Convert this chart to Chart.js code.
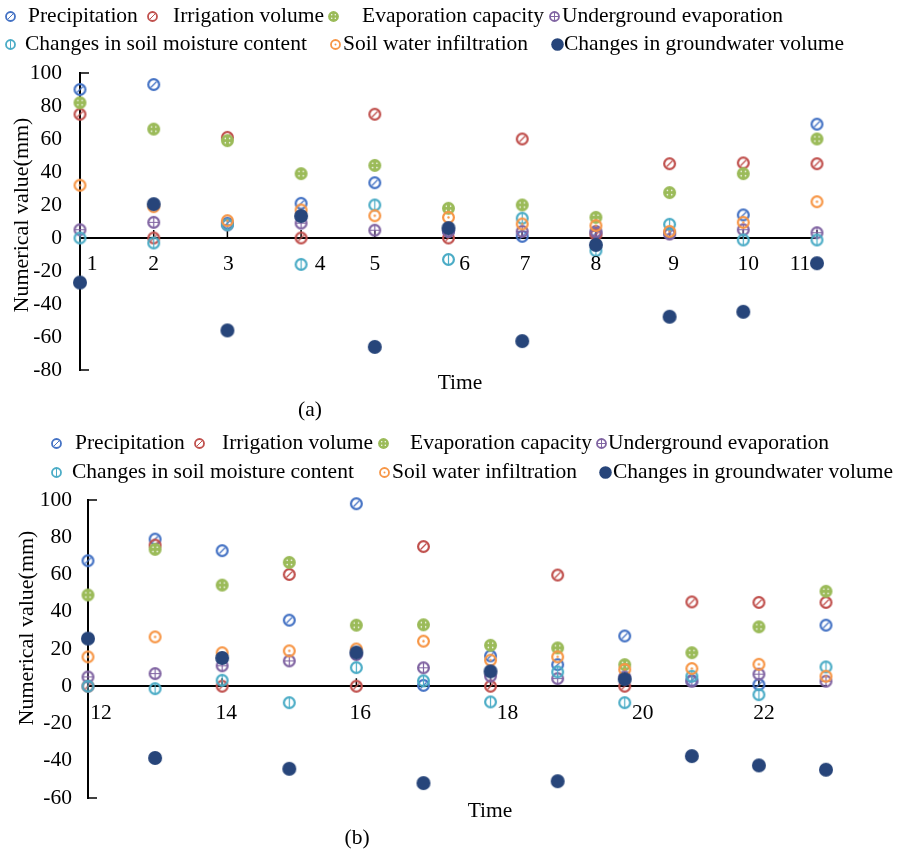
<!DOCTYPE html>
<html>
<head>
<meta charset="utf-8">
<script src="https://cdn.jsdelivr.net/npm/chart.js@4.4.1/dist/chart.umd.min.js"></script>
<style>
  html, body { margin: 0; padding: 0; background: #fff; }
  #wrap { position: relative; width: 901px; height: 849px; overflow: hidden; background: #fff; }
  .panel { position: absolute; left: 0; width: 901px; }
  #pa { top: 0; height: 425px; }
  #pb { top: 425px; height: 424px; }
</style>
</head>
<body>
<div id="wrap">
  <div class="panel" id="pa"><canvas id="chartA" width="901" height="425"></canvas></div>
  <div class="panel" id="pb"><canvas id="chartB" width="901" height="424"></canvas></div>
</div>
<script>
// Water balance components (mm) per time step
const seriesNames = [
  'Precipitation', 'Irrigation volume', 'Evaporation capacity', 'Underground evaporation',
  'Changes in soil moisture content', 'Soil water infiltration', 'Changes in groundwater volume'
];

// Panel (a): time steps 1–11
const timeA = [1, 2, 3, 4, 5, 6, 7, 8, 9, 10, 11];
const precipitationA = [90, 93, 9, 21, 33.5, 4, 1, 3, 3, 14, 69];
const irrigationA = [75, 0, 61, 0, 75, 0, 60, 2, 45, 45.5, 45];
const evaporationA = [82, 66, 59, 39, 44, 18, 20, 12.5, 27.5, 39, 60];
const undergroundEvapA = [5, 9.5, 8, 9, 4.7, 4, 4, 4, 2.4, 5, 3.2];
const soilMoistureA = [0, -3, 8, -16, 20, -13, 12, -7.7, 8.3, -1.2, -1.2];
const infiltrationA = [32, 19, 10.5, 17, 13.5, 12.5, 8.5, 7.5, 4, 9.5, 22];
const groundwaterA = [-27, 20.5, -56, 13.3, -66, 6, -62.5, -4.2, -47.7, -44.7, -15.3];

// Panel (b): time steps 12–23
const timeB = [12, 13, 14, 15, 16, 17, 18, 19, 20, 21, 22, 23];
const precipitationB = [67.4, 79, 72.8, 35.5, 98, 0.5, 16.3, 11.6, 27, 3, 0.9, 32.8];
const irrigationB = [0, 75.8, 0, 60, 0, 75, 0, 59.7, 0, 45.3, 45, 45];
const evaporationB = [49, 73.5, 54.3, 66.5, 32.8, 33, 22, 20.6, 11.6, 18, 31.9, 51];
const undergroundEvapB = [5, 6.8, 11, 13.6, 17, 9.9, 5.5, 4.1, 5, 2.7, 6.5, 2.7];
const soilMoistureB = [0, -1.3, 3.2, -8.8, 10, 2.9, -8.4, 7.7, -8.8, 5.4, -4.5, 10.4];
const infiltrationB = [15.8, 26.5, 18, 19, 20, 24.2, 14, 15.8, 9, 9.5, 11.8, 5.4];
const groundwaterB = [25.6, -38.5, 15.2, -44.3, 18.1, -52, 8, -51, 3.8, -37.5, -42.5, -44.8];

const colors = ['#4472C4', '#C0504D', '#9BBB59', '#8064A2', '#4BACC6', '#F79646', '#27457A'];
const kinds = ['slash', 'slash', 'dots', 'plus', 'vline', 'dot', 'filled'];

const FONT = "'Liberation Serif', 'Times New Roman', serif";
const FONT_SIZE = 21.5;
Chart.defaults.font.family = FONT;
Chart.defaults.font.size = FONT_SIZE;
Chart.defaults.color = '#000';

// Marker glyphs: open or filled circles with a small inner pattern
function makeMarker(color, kind, r, lw, filledR) {
  const outer = kind === 'filled' ? filledR : r + lw / 2;
  const size = Math.ceil(outer * 2 + 2);
  const c = document.createElement('canvas');
  c.width = c.height = size;
  const g = c.getContext('2d');
  const cx = size / 2, cy = size / 2;
  g.strokeStyle = color;
  g.fillStyle = color;
  g.lineWidth = lw;
  if (kind === 'filled' || kind === 'dots') {
    g.beginPath(); g.arc(cx, cy, outer, 0, Math.PI * 2); g.fill();
  } else {
    g.beginPath(); g.arc(cx, cy, r, 0, Math.PI * 2); g.stroke();
  }
  const k = r * 0.55;
  g.lineWidth = Math.max(1, lw * 0.55);
  if (kind === 'slash') {
    g.beginPath(); g.moveTo(cx - k, cy + k); g.lineTo(cx + k, cy - k); g.stroke();
  } else if (kind === 'plus') {
    g.beginPath(); g.moveTo(cx - r, cy); g.lineTo(cx + r, cy);
    g.moveTo(cx, cy - r); g.lineTo(cx, cy + r); g.stroke();
  } else if (kind === 'vline') {
    g.beginPath(); g.moveTo(cx, cy - r); g.lineTo(cx, cy + r); g.stroke();
  } else if (kind === 'dot') {
    g.beginPath(); g.arc(cx, cy, Math.max(0.8, r * 0.22), 0, Math.PI * 2); g.fill();
  } else if (kind === 'dots') {
    g.fillStyle = '#fff';
    const d = outer * 0.33;
    [[-d, -d], [d, -d], [-d, d], [d, d]].forEach(([dx, dy]) => {
      g.beginPath(); g.arc(cx + dx, cy + dy, Math.max(0.7, outer * 0.12), 0, Math.PI * 2); g.fill();
    });
  }
  return c;
}

const plotMarkers = colors.map((c, i) => makeMarker(c, kinds[i], 5.4, 2.2, 7));

function buildDatasets(xs, series) {
  return series.map((vals, i) => ({
    label: seriesNames[i],
    data: xs.map((x, j) => ({ x: x, y: vals[j] })),
    pointStyle: plotMarkers[i],
    pointRadius: 6,
    pointHoverRadius: 6,
    showLine: false,
    clip: false,
    order: series.length - i
  }));
}

// Legend, axis titles, panel caption, time labels and short inward tick marks
function makeDecor(cfg) {
  const icons = colors.map((c, i) => makeMarker(c, kinds[i], 4.5, 1.8, 6.3));
  return {
    id: 'decor',
    beforeDatasetsDraw(chart) {
      const ctx = chart.ctx;
      const xs = chart.scales.x, ys = chart.scales.y;
      const y0 = ys.getPixelForValue(0);
      ctx.save();
      ctx.strokeStyle = '#000';
      ctx.lineWidth = 1.5;
      xs.ticks.forEach(t => {
        const px = xs.getPixelForValue(t.value);
        ctx.beginPath(); ctx.moveTo(px, y0); ctx.lineTo(px, y0 - 8); ctx.stroke();
      });
      [ys.max, ys.min].forEach(v => {
        const py = ys.getPixelForValue(v);
        ctx.beginPath(); ctx.moveTo(xs.left, py); ctx.lineTo(xs.left + 9, py); ctx.stroke();
      });
      ctx.restore();
    },
    afterDraw(chart) {
      const ctx = chart.ctx;
      const xs = chart.scales.x, ys = chart.scales.y;
      const y0 = ys.getPixelForValue(0);
      ctx.save();
      ctx.fillStyle = '#000';
      ctx.textBaseline = 'middle';
      ctx.font = FONT_SIZE + 'px ' + FONT;
      // time labels under the zero line, nudged clear of the markers
      ctx.textAlign = 'center';
      xs.ticks.forEach(t => {
        const px = xs.getPixelForValue(t.value) + (cfg.nudge[t.value] || 0);
        ctx.fillText(String(t.value), px, y0 + cfg.labelGap);
      });
      // legend
      ctx.textAlign = 'left';
      cfg.legend.forEach((it, i) => {
        const img = icons[i];
        ctx.drawImage(img, Math.round(it.mx - img.width / 2), Math.round(it.y - img.height / 2));
        ctx.fillText(seriesNames[i], it.tx, it.y);
      });
      ctx.textAlign = 'center';
      ctx.fillText('Time', cfg.xTitle[0], cfg.xTitle[1]);
      ctx.fillText(cfg.caption, cfg.capPos[0], cfg.capPos[1]);
      ctx.translate(cfg.yTitle[0], cfg.yTitle[1]);
      ctx.rotate(-Math.PI / 2);
      ctx.font = '22px ' + FONT;
      ctx.fillText('Numerical value(mm)', 0, 0);
      ctx.restore();
    }
  };
}

function makeChart(id, xs, series, ax) {
  return new Chart(document.getElementById(id), {
    type: 'scatter',
    data: { datasets: buildDatasets(xs, series) },
    options: {
      responsive: false,
      animation: false,
      events: [],
      layout: { padding: { left: 0, top: ax.top, right: ax.right, bottom: ax.bottom } },
      plugins: { legend: { display: false }, tooltip: { enabled: false } },
      scales: {
        x: {
          type: 'linear',
          position: { y: 0 },
          min: xs[0],
          max: xs[xs.length - 1],
          grid: { drawOnChartArea: false, drawTicks: false },
          border: { display: true, color: '#000', width: 2 },
          ticks: { display: false, stepSize: ax.xStep, includeBounds: false },
          afterFit: s => { s.height = 0; }
        },
        y: {
          min: ax.yMin,
          max: ax.yMax,
          grid: { drawOnChartArea: false, drawTicks: false },
          border: { display: true, color: '#000', width: 2 },
          ticks: { stepSize: 20, padding: ax.yPad, color: '#000' },
          afterFit: s => { s.width = ax.left; }
        }
      }
    },
    plugins: [makeDecor(ax.decor)]
  });
}

makeChart('chartA', timeA,
  [precipitationA, irrigationA, evaporationA, undergroundEvapA, soilMoistureA, infiltrationA, groundwaterA],
  {
    top: 73, right: 84, bottom: 55, left: 80, yPad: 18, yMin: -80, yMax: 100, xStep: 1,
    decor: {
      labelGap: 26,
      nudge: { 1: 12, 3: 1, 4: 19, 6: 16, 7: 3, 9: 4, 10: 5, 11: -17 },
      legend: [
        { mx: 10, tx: 28, y: 16 }, { mx: 152, tx: 173, y: 16 }, { mx: 333, tx: 362, y: 16 }, { mx: 554, tx: 562, y: 16 },
        { mx: 10, tx: 25, y: 44 }, { mx: 335, tx: 343, y: 44 }, { mx: 557, tx: 564, y: 44 }
      ],
      xTitle: [460, 383], caption: '(a)', capPos: [310, 410], yTitle: [22, 215]
    }
  });

makeChart('chartB', timeB,
  [precipitationB, irrigationB, evaporationB, undergroundEvapB, soilMoistureB, infiltrationB, groundwaterB],
  {
    top: 75, right: 75, bottom: 51, left: 88, yPad: 16, yMin: -60, yMax: 100, xStep: 2,
    decor: {
      labelGap: 27,
      nudge: { 12: 13, 14: 4, 16: 4, 18: 17, 20: 18, 22: 5 },
      legend: [
        { mx: 56, tx: 75, y: 18 }, { mx: 199, tx: 222, y: 18 }, { mx: 383, tx: 410, y: 18 }, { mx: 601, tx: 608, y: 18 },
        { mx: 56, tx: 72, y: 47 }, { mx: 384, tx: 392, y: 47 }, { mx: 605, tx: 613, y: 47 }
      ],
      xTitle: [490, 386], caption: '(b)', capPos: [357, 413], yTitle: [27, 203]
    }
  });
</script>
</body>
</html>
